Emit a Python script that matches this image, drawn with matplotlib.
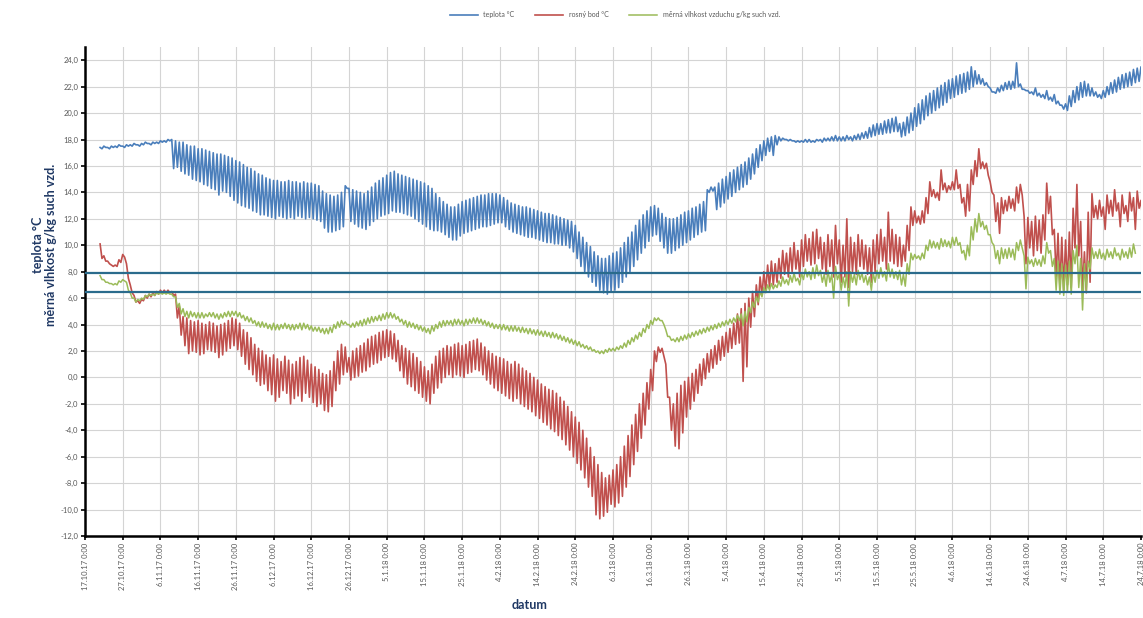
import matplotlib
matplotlib.use("Agg")
import matplotlib.pyplot as plt
import numpy as np

plt.rcParams["font.family"] = ["Lato", "DejaVu Sans"]

# den 0 = 17.10.2017 0:00, data od dne 4 do dne 280, jedno maximum a minimum za den
PRVNI_DEN = 4

teplota_max = [
    17.4, 17.5, 17.4, 17.5, 17.5, 17.6,
    17.5, 17.6, 17.6, 17.7, 17.6, 17.7, 17.8, 17.7, 17.8, 17.8,
    17.9, 17.9, 18.0, 18.0, 17.9, 17.8, 17.8, 17.6, 17.5, 17.5,
    17.3, 17.3, 17.2, 17.1, 17.0, 16.9, 16.9, 16.8, 16.7, 16.6,
    16.4, 16.3, 16.1, 15.9, 15.8, 15.6, 15.4, 15.3, 15.1, 15.0,
    14.9, 14.9, 14.8, 14.8, 14.9, 14.8, 14.8, 14.7, 14.8, 14.7,
    14.7, 14.6, 14.5, 14.1, 13.9, 13.8, 13.7, 13.8, 14.0, 14.5,
    14.3, 14.2, 14.1, 14.0, 13.9, 14.1, 14.4, 14.7, 14.9, 15.1,
    15.3, 15.5, 15.6, 15.4, 15.3, 15.2, 15.1, 15.0, 14.9, 14.8,
    14.7, 14.5, 14.3, 13.9, 13.6, 13.3, 13.1, 12.9, 12.9, 13.1,
    13.3, 13.4, 13.5, 13.6, 13.7, 13.8, 13.8, 13.9, 13.9, 13.9,
    13.8, 13.6, 13.4, 13.2, 13.1, 13.0, 12.9, 12.9, 12.8, 12.7,
    12.6, 12.5, 12.4, 12.4, 12.3, 12.2, 12.1, 12.0, 11.9, 11.8,
    11.5, 11.0, 10.6, 10.2, 9.9, 9.5, 9.2, 9.0, 9.0, 9.2,
    9.4, 9.5, 9.8, 10.2, 10.6, 11.0, 11.5, 11.9, 12.3, 12.6,
    12.9, 13.0, 12.8, 12.4, 12.1, 12.0, 12.0, 12.1, 12.3, 12.5,
    12.6, 12.8, 12.9, 13.1, 13.3, 14.2, 14.4, 14.4, 14.7, 15.0,
    15.2, 15.5, 15.7, 15.9, 16.1, 16.3, 16.6, 16.9, 17.3, 17.6,
    17.9, 18.1, 18.2, 18.3, 18.2, 18.1, 18.0, 18.0, 17.9, 17.9,
    17.9, 18.0, 18.0, 17.9, 18.0, 18.0, 18.1, 18.1, 18.2, 18.3,
    18.2, 18.2, 18.3, 18.2, 18.3, 18.4, 18.5, 18.6, 18.9, 19.1,
    19.2, 19.2, 19.4, 19.5, 19.6, 19.7, 19.2, 19.3, 19.7, 20.0,
    20.4, 20.7, 21.0, 21.3, 21.5, 21.7, 21.9, 22.1, 22.3, 22.5,
    22.6, 22.8, 22.9, 23.0, 23.1, 23.5, 23.2, 22.9, 22.6, 22.3,
    21.9, 21.6, 21.9, 22.1, 22.3, 22.4, 22.4, 23.8, 22.2, 21.8,
    21.7, 21.6, 21.9, 21.5, 21.4, 21.7, 21.2, 21.4, 20.9, 20.6,
    20.7, 21.3, 21.7, 22.0, 22.3, 22.4, 22.2, 21.9, 21.6, 21.4,
    21.7, 22.0, 22.3, 22.5, 22.7, 22.9, 23.0, 23.1, 23.3, 23.4,
    23.5,
]
teplota_min = [
    17.3, 17.4, 17.3, 17.4, 17.4, 17.5,
    17.4, 17.5, 17.5, 17.6, 17.5, 17.6, 17.7, 17.6, 17.7, 17.7,
    17.8, 17.8, 17.9, 15.8, 15.9, 15.6, 15.4, 15.3, 15.0, 14.9,
    14.8, 14.6, 14.5, 14.3, 14.2, 13.8, 14.1, 14.0, 13.7, 13.4,
    13.2, 13.0, 12.9, 12.8, 12.6, 12.5, 12.3, 12.3, 12.2, 12.1,
    12.0, 12.2, 12.1, 12.0, 12.1, 12.0, 12.2, 12.1, 12.0, 12.1,
    12.0, 11.9, 11.8, 11.3, 11.0, 11.0, 11.1, 11.2, 11.4, 14.3,
    11.8, 11.6, 11.4, 11.3, 11.2, 11.5, 11.8, 12.0, 12.2, 12.3,
    12.4, 12.6, 12.5, 12.5, 12.4, 12.3, 12.2, 12.0, 11.8, 11.6,
    11.4, 11.2, 11.1, 11.1, 11.0, 10.8, 10.6, 10.4, 10.4, 10.7,
    10.9, 11.0, 11.1, 11.2, 11.3, 11.4, 11.4, 11.5, 11.6, 11.7,
    11.7, 11.4, 11.2, 11.0, 10.9, 10.8, 10.7, 10.6, 10.6, 10.5,
    10.4, 10.3, 10.2, 10.2, 10.1, 10.1, 10.0, 10.0, 9.8, 9.5,
    9.0, 8.4, 8.0, 7.6, 7.2, 6.9, 6.6, 6.4, 6.3, 6.5,
    6.6, 6.8, 7.2, 7.6, 8.0, 8.4, 8.9, 9.4, 9.8, 10.3,
    10.7, 10.8, 10.3, 9.8, 9.4, 9.4, 9.6, 9.8, 10.0, 10.2,
    10.4, 10.6, 10.8, 11.0, 11.1, 14.0, 14.1, 12.7, 12.9, 13.2,
    13.5, 13.7, 14.0, 14.2, 14.4, 14.6, 15.0, 15.4, 15.9, 16.4,
    16.8, 17.1, 16.8, 17.6, 17.9, 18.0, 17.9, 17.9, 17.8, 17.8,
    17.8, 17.8, 17.8, 17.8, 17.9, 17.8, 17.9, 17.9, 17.9, 17.9,
    17.9, 17.9, 18.0, 17.9, 18.0, 18.0, 18.1, 18.1, 18.2, 18.3,
    18.4, 18.4, 18.5, 18.5, 18.6, 18.6, 18.2, 18.3, 18.5, 18.7,
    19.0, 19.2, 19.5, 19.8, 20.0, 20.2, 20.4, 20.6, 20.8, 21.1,
    21.2, 21.4, 21.5, 21.6, 21.8, 22.0, 22.2, 22.2, 22.1, 22.0,
    21.6, 21.5, 21.6, 21.7, 21.8, 21.8, 21.9, 22.0, 21.8, 21.7,
    21.5, 21.4, 21.3, 21.2, 21.1, 21.0, 20.9, 20.7, 20.6, 20.3,
    20.2, 20.5, 20.8, 21.0, 21.2, 21.3, 21.3, 21.3, 21.2, 21.1,
    21.2, 21.4, 21.5, 21.6, 21.8, 21.9, 22.0, 22.1, 22.3, 22.4,
    22.5,
]

rosny_bod_max = [
    10.1, 9.2, 8.8, 8.5, 8.5, 8.9,
    9.3, 8.6, 7.0, 6.2, 5.8, 5.9, 6.2, 6.3, 6.4, 6.5,
    6.6, 6.6, 6.6, 6.5, 6.3, 5.4, 4.6, 4.5, 4.3, 4.2,
    4.3, 4.1, 4.0, 4.2, 4.1, 3.9, 4.0, 4.1, 4.3, 4.5,
    4.4, 4.1, 3.6, 3.4, 3.0, 2.5, 2.2, 2.0, 1.7, 1.5,
    1.7, 1.4, 1.2, 1.6, 1.3, 1.0, 1.2, 1.5, 1.6, 1.3,
    1.0, 0.8, 0.6, 0.3, 0.2, 0.5, 1.2, 2.0, 2.5, 2.3,
    1.5, 2.0, 2.2, 2.4, 2.6, 2.9, 3.1, 3.2, 3.4, 3.5,
    3.6, 3.5, 3.3, 2.8, 2.4, 2.2, 2.0, 1.8, 1.5, 1.2,
    0.8, 0.5, 1.0, 1.6, 2.0, 2.2, 2.4, 2.3, 2.5, 2.6,
    2.4, 2.5, 2.7, 2.8, 2.9, 2.6, 2.3, 2.0, 1.8, 1.6,
    1.5, 1.4, 1.2, 1.0, 1.2, 1.0, 0.7, 0.5, 0.3, 0.0,
    -0.2, -0.5, -0.7, -0.9, -1.0, -1.2, -1.5, -1.8, -2.2, -2.6,
    -3.0, -3.4, -4.0, -4.6, -5.3, -6.0, -6.6, -7.2, -7.6, -7.4,
    -7.0, -6.6, -6.0, -5.2, -4.4, -3.6, -2.8, -2.0, -1.2, -0.4,
    0.6, 2.0, 2.3, 2.2, 1.0, -1.5, -2.0, -1.2, -0.6, -0.3,
    0.0, 0.3, 0.6, 1.0, 1.4, 1.8, 2.1, 2.4, 2.8, 3.1,
    3.4, 3.7, 4.1, 4.8, 5.2, 5.6, 6.0, 6.5, 7.0, 7.6,
    8.0, 8.5, 8.8, 8.6, 9.0, 9.6, 9.4, 9.8, 10.2, 9.6,
    10.4, 10.8, 10.5, 11.0, 11.2, 10.6, 10.2, 10.8, 10.4, 11.5,
    10.4, 10.0, 12.0, 10.6, 10.2, 10.8, 10.4, 10.0, 9.8, 10.4,
    10.8, 11.2, 10.6, 12.5, 11.2, 10.8, 10.6, 10.0, 11.5, 12.9,
    12.6, 12.2, 12.6, 13.6, 14.8, 14.2, 14.0, 15.7, 14.7, 14.5,
    14.8, 15.7, 14.6, 13.6, 14.6, 15.7, 16.4, 17.3, 16.3, 16.2,
    14.8, 13.8, 13.2, 13.6, 13.4, 13.7, 13.5, 14.4, 14.6, 12.2,
    12.1, 11.8, 12.2, 11.9, 12.3, 14.7, 13.7, 11.2, 10.9, 10.6,
    10.4, 11.0, 12.8, 14.6, 11.8, 9.5, 12.5, 13.9, 13.0, 13.4,
    12.9, 13.8, 13.4, 14.2, 13.2, 13.8, 13.0, 14.0, 13.6, 14.1,
    13.4,
]
rosny_bod_min = [
    9.0, 8.8, 8.6, 8.4, 8.4, 8.7,
    9.1, 7.5, 6.4, 5.7, 5.6, 5.8, 6.0, 6.1, 6.2, 6.3,
    6.4, 6.4, 6.4, 6.2, 4.5, 3.2, 2.4, 1.8, 2.0, 1.9,
    1.7, 1.8, 2.1, 2.0, 1.9, 1.5, 1.7, 2.0, 2.2, 2.4,
    2.1, 1.6, 1.0, 0.6, 0.2, -0.3, -0.6, -0.5, -1.0, -1.3,
    -1.8, -1.5, -1.0, -1.2, -2.0, -1.6, -1.4, -1.8, -1.2, -1.5,
    -1.9, -2.2, -2.0, -2.5, -2.6, -2.2, -1.0, -0.5, 0.2, 0.4,
    -0.2, 0.0, 0.1, 0.4, 0.5, 0.8, 1.0, 1.1, 1.3, 1.5,
    1.6, 1.4, 1.2, 0.5, 0.0, -0.5, -0.7, -1.0, -1.2, -1.5,
    -1.8, -2.0, -1.2, -0.8, -0.4, 0.0, 0.2, 0.0, 0.2, 0.1,
    0.0, 0.3, 0.4, 0.6, 0.5, 0.2, -0.2, -0.5, -0.8, -1.0,
    -1.2, -1.4, -1.6, -1.8, -1.6, -2.0, -2.2, -2.4, -2.6, -2.9,
    -3.1, -3.4, -3.6, -3.9, -4.1, -4.4, -4.7, -5.1, -5.5, -6.0,
    -6.5, -7.0, -7.6, -8.3, -9.0, -10.4, -10.7, -10.5, -10.2, -9.6,
    -9.8, -9.5, -9.0, -8.3, -7.5, -6.6, -5.6, -4.6, -3.6, -2.4,
    -1.0, 1.2, 1.9, 1.6, -1.5, -4.0, -5.2, -5.4, -4.2, -3.0,
    -2.4, -1.8, -1.2, -0.6, -0.1, 0.4, 0.7, 1.0, 1.3, 1.6,
    1.9, 2.2, 2.5, 2.6, -0.3, 0.8, 3.8, 4.6, 5.5, 6.2,
    6.5, 6.8, 7.0, 7.2, 7.5, 7.8, 7.6, 8.0, 8.2, 7.6,
    8.4, 8.8, 8.5, 8.6, 9.0, 8.2, 7.8, 8.4, 7.6, 8.6,
    7.2, 7.6, 6.8, 8.0, 7.8, 8.4, 8.2, 7.8, 7.2, 8.0,
    8.6, 8.8, 8.2, 8.8, 8.6, 8.4, 8.4, 8.8, 9.6, 11.5,
    11.7, 11.6, 11.7, 12.4, 13.7, 13.6, 13.4, 14.2, 14.0, 14.2,
    14.2, 14.3, 13.2, 12.2, 12.6, 14.6, 15.2, 15.8, 15.8, 15.3,
    14.0, 11.8, 10.9, 12.4, 12.6, 12.8, 12.6, 13.2, 13.8, 8.6,
    9.8, 9.2, 9.6, 9.4, 10.4, 12.4, 10.8, 7.6, 6.8, 6.6,
    7.0, 6.8, 9.8, 9.2, 6.6, 6.4, 7.2, 12.1, 12.0, 12.2,
    11.2, 12.4, 12.2, 12.6, 11.4, 12.4, 11.8, 12.6, 11.2, 12.8,
    11.6,
]

vlhkost_max = [
    7.7, 7.4, 7.2, 7.1, 7.1, 7.3,
    7.4, 7.2, 6.4, 6.0, 5.9, 6.0, 6.2, 6.3, 6.3, 6.4,
    6.4, 6.4, 6.4, 6.3, 6.1, 5.6, 5.2, 5.0, 5.0, 4.9,
    4.9, 4.9, 4.8, 4.9, 4.9, 4.8, 4.8, 4.9, 5.0, 5.0,
    5.0, 4.9, 4.7, 4.6, 4.5, 4.3, 4.2, 4.2, 4.1, 4.0,
    4.1, 4.0, 4.0, 4.1, 4.0, 4.0, 4.0, 4.1, 4.1, 4.0,
    3.9, 3.8, 3.8, 3.7, 3.7, 3.8, 4.0, 4.2, 4.3, 4.2,
    4.0, 4.1, 4.2, 4.3, 4.4, 4.5, 4.6, 4.6, 4.7, 4.8,
    4.9, 4.9, 4.8, 4.6, 4.4, 4.3, 4.2, 4.1, 4.0, 3.9,
    3.8, 3.7, 3.9, 4.0, 4.2, 4.3, 4.3, 4.3, 4.4, 4.4,
    4.3, 4.4, 4.4, 4.5, 4.5, 4.4, 4.3, 4.2, 4.1, 4.0,
    4.0, 4.0, 3.9, 3.9, 3.9, 3.8, 3.8, 3.7, 3.7, 3.6,
    3.6, 3.5, 3.5, 3.4, 3.4, 3.3, 3.2, 3.1, 3.0, 2.9,
    2.8, 2.7, 2.5, 2.4, 2.3, 2.1, 2.0, 2.0, 2.1, 2.2,
    2.2, 2.3, 2.4, 2.6, 2.8, 3.0, 3.2, 3.4, 3.7, 4.0,
    4.3, 4.5, 4.5, 4.3, 3.6, 3.1, 2.9, 3.0, 3.1, 3.2,
    3.3, 3.4, 3.5, 3.6, 3.7, 3.8, 3.9, 4.0, 4.1, 4.2,
    4.3, 4.4, 4.5, 4.7, 4.8, 5.0, 5.3, 5.7, 6.1, 6.5,
    6.8, 7.0, 7.1, 7.0, 7.3, 7.6, 7.4, 7.7, 7.9, 7.5,
    7.9, 8.2, 8.0, 8.3, 8.5, 8.1, 7.8, 8.1, 7.8, 8.4,
    7.8, 7.6, 8.0, 8.0, 7.8, 8.1, 7.9, 7.7, 7.6, 7.9,
    8.1, 8.3, 8.0, 8.6, 8.2, 8.0, 8.1, 7.8, 8.6, 9.4,
    9.3, 9.2, 9.4, 10.0, 10.4, 10.3, 10.2, 10.5, 10.4, 10.3,
    10.6, 10.6, 10.2, 9.6, 10.0, 11.4, 12.0, 12.4, 11.8, 11.5,
    10.8, 10.0, 9.6, 9.8, 9.7, 9.8, 9.7, 10.2, 10.4, 9.2,
    9.1, 8.9, 9.0, 8.9, 9.2, 10.2, 9.6, 9.0, 8.8, 8.6,
    8.5, 8.8, 9.6, 10.0, 9.0, 8.6, 8.8, 9.8, 9.5, 9.7,
    9.4, 9.7, 9.5, 9.8, 9.4, 9.7, 9.5, 9.8, 10.1, None,
    None,
]
vlhkost_min = [
    7.4, 7.2, 7.1, 7.0, 7.0, 7.2,
    7.3, 6.6, 6.0, 5.7, 5.8, 5.9, 6.1, 6.2, 6.2, 6.3,
    6.3, 6.3, 6.3, 6.1, 5.3, 4.8, 4.6, 4.5, 4.6, 4.5,
    4.5, 4.5, 4.6, 4.6, 4.5, 4.4, 4.5, 4.6, 4.6, 4.7,
    4.6, 4.5, 4.3, 4.2, 4.1, 3.9, 3.8, 3.8, 3.7, 3.6,
    3.6, 3.6, 3.7, 3.7, 3.6, 3.6, 3.7, 3.6, 3.7, 3.6,
    3.5, 3.5, 3.4, 3.3, 3.3, 3.4, 3.7, 3.8, 4.0, 4.0,
    3.8, 3.8, 3.9, 3.9, 4.0, 4.1, 4.2, 4.3, 4.3, 4.4,
    4.5, 4.5, 4.4, 4.2, 4.0, 3.8, 3.8, 3.7, 3.6, 3.5,
    3.4, 3.3, 3.5, 3.7, 3.8, 3.9, 4.0, 3.9, 4.0, 4.0,
    3.9, 4.0, 4.1, 4.1, 4.1, 4.0, 3.9, 3.8, 3.7, 3.7,
    3.6, 3.6, 3.5, 3.5, 3.5, 3.4, 3.4, 3.3, 3.3, 3.2,
    3.2, 3.1, 3.1, 3.0, 3.0, 2.9, 2.8, 2.7, 2.6, 2.5,
    2.4, 2.3, 2.2, 2.1, 2.0, 1.9, 1.8, 1.8, 1.9, 2.0,
    2.0, 2.1, 2.2, 2.3, 2.5, 2.7, 2.9, 3.1, 3.4, 3.7,
    4.0, 4.3, 4.3, 4.0, 3.1, 2.8, 2.7, 2.7, 2.8, 2.9,
    3.0, 3.1, 3.2, 3.3, 3.4, 3.5, 3.6, 3.7, 3.8, 3.9,
    4.0, 4.1, 4.2, 4.3, 3.9, 4.2, 4.9, 5.3, 5.7, 6.1,
    6.4, 6.6, 6.7, 6.8, 6.9, 7.1, 7.0, 7.2, 7.3, 7.0,
    7.4, 7.6, 7.4, 7.5, 7.7, 7.2, 6.9, 7.2, 6.0, 7.4,
    6.6, 6.8, 5.4, 7.2, 7.0, 7.4, 7.2, 7.0, 6.6, 7.2,
    7.5, 7.6, 7.3, 7.6, 7.5, 7.4, 7.0, 6.9, 7.8, 8.9,
    9.0, 8.9, 9.0, 9.6, 9.8, 9.8, 9.7, 9.9, 9.9, 9.8,
    10.0, 10.0, 9.4, 8.9, 9.2, 10.4, 11.0, 11.4, 11.2, 10.8,
    10.2, 9.0, 8.6, 9.0, 9.0, 9.1, 8.9, 9.6, 9.8, 6.7,
    8.6, 8.4, 8.5, 8.4, 8.6, 9.4, 8.4, 6.6, 6.3, 6.2,
    6.5, 6.3, 8.6, 6.8, 5.1, 6.6, 8.2, 9.0, 9.0, 9.0,
    8.9, 9.1, 9.0, 9.2, 8.9, 9.1, 9.0, 9.1, 9.4, None,
    None,
]

datum_popisky = [
    "17.10.17 0:00", "27.10.17 0:00", "6.11.17 0:00", "16.11.17 0:00",
    "26.11.17 0:00", "6.12.17 0:00", "16.12.17 0:00", "26.12.17 0:00",
    "5.1.18 0:00", "15.1.18 0:00", "25.1.18 0:00", "4.2.18 0:00",
    "14.2.18 0:00", "24.2.18 0:00", "6.3.18 0:00", "16.3.18 0:00",
    "26.3.18 0:00", "5.4.18 0:00", "15.4.18 0:00", "25.4.18 0:00",
    "5.5.18 0:00", "15.5.18 0:00", "25.5.18 0:00", "4.6.18 0:00",
    "14.6.18 0:00", "24.6.18 0:00", "4.7.18 0:00", "14.7.18 0:00",
    "24.7.18 0:00",
]
hranice = [7.9, 6.5]

MODRA = "#4a7ebb"
CERVENA = "#c0504d"
ZELENA = "#9bbb59"
NADPIS = "#1f3864"


def zubata(horni, dolni):
    # kazdy den: maximum, pak minimum o pul dne pozdeji
    horni = np.array(horni, dtype=float)
    dolni = np.array(dolni, dtype=float)
    dny = PRVNI_DEN + np.arange(len(horni))
    x = np.column_stack([dny, dny + 0.5]).ravel()
    y = np.column_stack([horni, dolni]).ravel()
    return x, y


fig = plt.figure(figsize=(11.43, 6.18), dpi=100)
ax = fig.add_axes([85 / 1143, 1 - 536 / 618, (1141 - 85) / 1143, (536 - 47) / 618])

ax.plot(*zubata(teplota_max, teplota_min), color=MODRA, lw=1.2, label="teplota °C", zorder=3)
ax.plot(*zubata(rosny_bod_max, rosny_bod_min), color=CERVENA, lw=1.2, label="rosný bod °C", zorder=3)
ax.plot(*zubata(vlhkost_max, vlhkost_min), color=ZELENA, lw=1.1,
        label="měrná vlhkost vzduchu g/kg such vzd.", zorder=4)
for h in hranice:
    ax.axhline(h, color="#2a6b8c", lw=1.6, zorder=5)

ax.set_xlim(0, 280)
ax.set_ylim(-12, 25)
ax.set_xticks(np.arange(len(datum_popisky)) * 10)
ax.set_xticklabels(datum_popisky, rotation=90, fontsize=5.5, color="#595959")
yt = np.arange(-12, 25, 2)
ax.set_yticks(yt)
ax.set_yticklabels([f"{v:.1f}".replace(".", ",") for v in yt], fontsize=5.5, color="#595959")
ax.tick_params(axis="both", direction="out", length=3, width=1.2, color="black", pad=2)
ax.grid(True, color="#d4d4d4", lw=0.8, zorder=0)
ax.set_axisbelow(True)
for s in ["top", "right"]:
    ax.spines[s].set_visible(False)
for s in ["left", "bottom"]:
    ax.spines[s].set_linewidth(1.8)
    ax.spines[s].set_color("black")

fig.text(45 / 1143, 1 - 245 / 618, "teplota °C\nměrná vlhkost g/kg such vzd.",
         rotation=90, ha="center", va="center", multialignment="center",
         fontsize=9, fontweight="bold", color=NADPIS, linespacing=1.1)
fig.text(530 / 1143, 1 - 605 / 618, "datum", ha="center", va="center",
         fontsize=9, fontweight="bold", color=NADPIS)

fig.legend(loc="center", bbox_to_anchor=(615 / 1143, 1 - 15 / 618), ncol=3,
           frameon=False, fontsize=5, handlelength=4, columnspacing=3,
           labelcolor="#595959")

fig.savefig("out.png", dpi=100)
